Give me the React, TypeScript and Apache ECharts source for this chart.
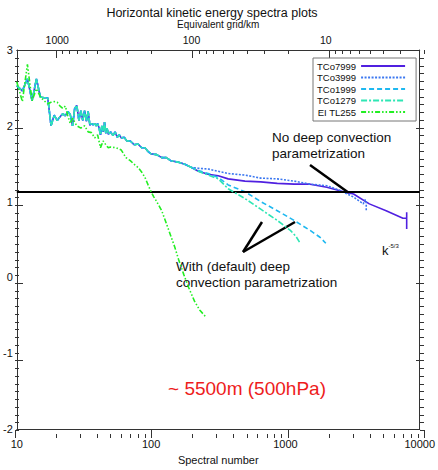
import React, { useEffect, useRef } from "react";
import * as echarts from "echarts";

// Spectral number (N) vs log10 kinetic energy
const tcoShared: [number, number][] = [
  [10, 2.53], [11, 2.46], [12, 2.62], [13, 2.33], [14, 2.62], [15, 2.38], [16, 2.37], [17, 2.37],
  [18, 2.0], [19, 2.14], [20, 2.07], [21, 2.12], [22, 2.16], [23, 2.13], [24, 2.19], [25, 2.15],
  [26, 2.0], [27, 2.23], [28, 2.27], [29, 2.07], [30, 2.2], [31, 2.07], [32, 2.2], [33, 2.06],
  [34, 2.19], [35, 2.01], [36, 2.03], [37, 2.01], [38, 2.03], [39, 2.0], [40, 2.03], [41, 1.97],
  [42, 1.88], [43, 2.0], [44, 1.92], [45, 2.05], [46, 1.9], [47, 1.97], [48, 1.89], [50, 1.92],
  [52, 1.87], [54, 1.92], [56, 1.85], [58, 1.88], [60, 1.84], [63, 1.85], [66, 1.8], [70, 1.8],
  [75, 1.75], [80, 1.76], [85, 1.71], [90, 1.71], [95, 1.66], [100, 1.63], [110, 1.62], [120, 1.58],
  [130, 1.58], [140, 1.54], [160, 1.52], [180, 1.49], [200, 1.45],
];
const tco7999Tail: [number, number][] = [
  [225, 1.4], [266, 1.36], [316, 1.34], [375, 1.3], [500, 1.27], [655, 1.26], [870, 1.24],
  [1165, 1.23], [1527, 1.23], [2036, 1.19], [2715, 1.13], [3216, 1.1], [4217, 0.97], [5623, 0.88],
  [7500, 0.78], [7999, 0.78], [7999, 0.86], [7999, 0.64],
];
const tco3999Tail: [number, number][] = [
  [225, 1.44], [266, 1.43], [316, 1.4], [375, 1.37], [500, 1.35], [655, 1.31], [870, 1.3],
  [1165, 1.27], [1527, 1.23], [2036, 1.21], [2535, 1.15], [3216, 1.06], [3800, 0.97], [3900, 1.02],
  [3999, 1.02], [3999, 0.87],
];
const tco1999Tail: [number, number][] = [
  [225, 1.41], [266, 1.37], [316, 1.32], [375, 1.22], [500, 1.13], [655, 1.0], [870, 0.88],
  [1165, 0.75], [1527, 0.62], [1808, 0.53], [1999, 0.45],
];
const tco1279Tail: [number, number][] = [
  [225, 1.4], [266, 1.35], [316, 1.3], [375, 1.17], [500, 1.04], [655, 0.9], [873, 0.75],
  [1089, 0.62], [1200, 0.54], [1279, 0.46],
];
const tl255: [number, number][] = [
  [10, 2.58], [11, 2.32], [12, 2.81], [13, 2.33], [14, 2.49], [15, 2.38], [16, 2.33], [17, 2.29],
  [18, 2.31], [19, 2.32], [20, 2.31], [21, 2.26], [22, 2.23], [23, 2.26], [24, 2.13], [25, 2.03],
  [26, 2.1], [28, 2.0], [30, 1.97], [32, 2.0], [34, 1.92], [36, 1.91], [38, 1.84], [40, 1.88],
  [42, 1.71], [44, 1.8], [46, 1.75], [48, 1.71], [50, 1.72], [55, 1.71], [60, 1.68], [65, 1.58],
  [70, 1.54], [75, 1.49], [80, 1.45], [85, 1.39], [90, 1.32], [95, 1.22], [100, 1.13], [105, 1.06],
  [110, 1.0], [120, 0.88], [130, 0.71], [140, 0.55], [150, 0.4], [160, 0.24], [175, 0.04],
  [190, -0.13], [210, -0.31], [230, -0.43], [255, -0.52],
];

const seriesNames = ["TCo7999", "TCo3999", "TCo1999", "TCo1279", "EI TL255"];
const seriesColors = ["#5020E0", "#3C78F0", "#1EB8F0", "#2EE6B4", "#22EE22"];
const referenceLevel = 1.13;

const bottomMajor = [10, 100, 1000, 10000];
const bottomMinor = [20, 30, 40, 50, 60, 70, 80, 90, 200, 300, 400, 500, 600, 700, 800, 900,
  2000, 3000, 4000, 5000, 6000, 7000, 8000, 9000];
const topMajorKm = [1000, 100, 10];
const topMinorKm = [900, 800, 700, 600, 500, 400, 300, 200, 90, 80, 70, 60, 50, 40, 30, 20,
  9, 8, 7, 6, 5, 4, 3, 2];
const kmFactor = 20000; // equivalent grid (km) = 20000 / N
const yMajor = [-2, -1, 0, 1, 2, 3];
const yMinorStep = 0.1;

const FONT = "Liberation Sans, Arial, Helvetica, sans-serif";
const W = 438, H = 470;
const GRID = { left: 15, right: 14, top: 50, bottom: 32 };

export default function App() {
  const ref = useRef<HTMLDivElement>(null);
  useEffect(() => {
    if (!ref.current) return;
    const chart = echarts.init(ref.current, undefined, { renderer: "svg" });
    const lg = (n: number) => Math.log10(n);
    const toXY = (arr: [number, number][]) => arr.map(([n, e]) => [lg(n), e]);
    const dataSets = [
      tcoShared.concat(tco7999Tail),
      tcoShared.concat(tco3999Tail),
      tcoShared.concat(tco1999Tail),
      tcoShared.concat(tco1279Tail),
      tl255,
    ];
    const lineTypes: any[] = ["solid", [2, 1.5], [5, 3], [6, 2, 2, 2], [5, 2, 1.5, 2, 1.5, 2]];
    const axisColor = "#333";
    const xMin = 1, xMax = 4, yMin = -2, yMax = 3;

    // Axis tick decoration, laid out on the grid rectangle
    const gw = W - GRID.left - GRID.right;
    const gh = H - GRID.top - GRID.bottom;
    const px = (x: number) => GRID.left + ((x - xMin) / (xMax - xMin)) * gw;
    const py = (y: number) => GRID.top + ((yMax - y) / (yMax - yMin)) * gh;
    const ticks: any[] = [];
    const seg = (x1: number, y1: number, x2: number, y2: number) =>
      ticks.push({ type: "line", shape: { x1, y1, x2, y2 }, style: { stroke: axisColor, lineWidth: 1 } });
    const vTick = (xv: number, atTop: boolean, len: number) => {
      const x = Math.round(px(xv)) + 0.5;
      const y = atTop ? GRID.top : H - GRID.bottom;
      seg(x, y, x, atTop ? y + len : y - len);
    };
    const hTick = (yv: number, atRight: boolean, len: number) => {
      const y = Math.round(py(yv)) + 0.5;
      const x = atRight ? W - GRID.right : GRID.left;
      seg(x, y, atRight ? x - len : x + len, y);
    };
    bottomMajor.forEach((n) => vTick(lg(n), false, 8));
    bottomMinor.forEach((n) => vTick(lg(n), false, 4));
    topMajorKm.forEach((k) => vTick(lg(kmFactor / k), true, 8));
    topMinorKm.forEach((k) => vTick(lg(kmFactor / k), true, 4));
    const nMinor = Math.round((yMax - yMin) / yMinorStep);
    for (let k = 1; k < nMinor; k++) {
      const v = Math.round((yMin + k * yMinorStep) * 10) / 10;
      const isMajor = yMajor.indexOf(v) >= 0;
      hTick(v, false, isMajor ? 8 : 4);
      hTick(v, true, isMajor ? 8 : 4);
    }

    const annotations: any[] = [
      {
        type: "text",
        x: 212,
        y: 13,
        style: { text: "Horizontal kinetic energy spectra plots", fontSize: 12.5, fill: "#111", align: "center", verticalAlign: "middle", fontFamily: FONT },
      },
      {
        type: "text",
        x: 272,
        y: 137,
        style: { text: "No deep convection", fontSize: 13.5, fill: "#111", align: "left", verticalAlign: "middle", fontFamily: FONT },
      },
      {
        type: "text",
        x: 272,
        y: 153,
        style: { text: "parametrization", fontSize: 13.5, fill: "#111", align: "left", verticalAlign: "middle", fontFamily: FONT },
      },
      {
        type: "text",
        x: 176,
        y: 266,
        style: { text: "With (default) deep", fontSize: 13.5, fill: "#111", align: "left", verticalAlign: "middle", fontFamily: FONT },
      },
      {
        type: "text",
        x: 176,
        y: 282,
        style: { text: "convection parametrization", fontSize: 13.5, fill: "#111", align: "left", verticalAlign: "middle", fontFamily: FONT },
      },
      {
        type: "text",
        x: 382,
        y: 243,
        style: {
          text: "{k|k}{s|-5/3}",
          fontFamily: FONT,
          rich: {
            k: { fontSize: 13, fill: "#111", fontFamily: FONT, verticalAlign: "bottom", lineHeight: 14 },
            s: { fontSize: 6, fill: "#111", fontFamily: FONT, verticalAlign: "top", lineHeight: 14 },
          },
        },
      },
      {
        type: "text",
        x: 247,
        y: 388,
        style: { text: "~ 5500m (500hPa)", fontSize: 19, fill: "#EE1C1C", align: "center", verticalAlign: "middle", fontFamily: FONT },
      },
      { type: "line", shape: { x1: 310, y1: 165, x2: 349, y2: 193 }, style: { stroke: "#000", lineWidth: 2.5 } },
      { type: "line", shape: { x1: 243, y1: 252, x2: 262, y2: 222 }, style: { stroke: "#000", lineWidth: 2.5 } },
      { type: "line", shape: { x1: 243, y1: 252, x2: 295, y2: 222 }, style: { stroke: "#000", lineWidth: 2.5 } },
    ];

    const option: any = {
      animation: false,
      backgroundColor: "#fff",
      textStyle: { fontFamily: FONT },
      grid: { ...GRID, containLabel: false },
      legend: {
        orient: "vertical",
        left: 313,
        top: 58,
        align: "right",
        borderColor: "#777",
        borderWidth: 1,
        padding: [3, 10, 4, 4],
        itemGap: 1.5,
        itemWidth: 44,
        itemHeight: 10,
        itemStyle: { opacity: 0, borderWidth: 0 },
        textStyle: { fontSize: 9.5, color: "#111", width: 41, fontFamily: FONT },
        data: seriesNames,
      },
      xAxis: [
        {
          type: "value",
          position: "bottom",
          min: xMin,
          max: xMax,
          splitLine: { show: false },
          axisLine: { show: true, onZero: false, lineStyle: { color: axisColor } },
          axisTick: { show: false },
          axisLabel: {
            customValues: bottomMajor.map(lg),
            formatter: (v: number) => String(Math.round(Math.pow(10, v))),
            margin: 9,
            fontSize: 11,
            color: "#111",
            fontFamily: FONT,
          },
          name: "Spectral number",
          nameLocation: "middle",
          nameGap: 25,
          nameMoveOverlap: false,
          nameTextStyle: { fontSize: 11, color: "#111", fontFamily: FONT },
        },
        {
          type: "value",
          position: "top",
          min: xMin,
          max: xMax,
          splitLine: { show: false },
          axisLine: { show: true, onZero: false, lineStyle: { color: axisColor } },
          axisTick: { show: false },
          axisLabel: {
            customValues: topMajorKm.map((k) => lg(kmFactor / k)),
            formatter: (v: number) => String(Math.round(kmFactor / Math.pow(10, v))),
            margin: 5,
            fontSize: 10.5,
            color: "#111",
            fontFamily: FONT,
          },
          name: "Equivalent grid/km",
          nameLocation: "middle",
          nameGap: 18,
          nameTextStyle: { fontSize: 10, color: "#111", fontFamily: FONT },
        },
      ],
      yAxis: [
        {
          type: "value",
          position: "left",
          min: yMin,
          max: yMax,
          interval: 1,
          splitLine: { show: false },
          axisLine: { show: true, onZero: false, lineStyle: { color: axisColor } },
          axisTick: { show: false },
          axisLabel: { margin: 4, fontSize: 11, color: "#111", fontFamily: FONT },
        },
        {
          type: "value",
          position: "right",
          min: yMin,
          max: yMax,
          interval: 1,
          splitLine: { show: false },
          axisLine: { show: true, onZero: false, lineStyle: { color: axisColor } },
          axisTick: { show: false },
          axisLabel: { show: false },
        },
      ],
      series: dataSets.map((d, i) => ({
        name: seriesNames[i],
        type: "line",
        xAxisIndex: 0,
        yAxisIndex: 0,
        data: toXY(d),
        symbol: "none",
        lineStyle: { color: seriesColors[i], width: 1.6, type: lineTypes[i] },
        itemStyle: { color: seriesColors[i] },
        z: 2 + i,
        markLine:
          i === 0
            ? {
                silent: true,
                symbol: "none",
                label: { show: false },
                lineStyle: { color: "#000", width: 2, type: "solid" },
                data: [{ yAxis: referenceLevel }],
              }
            : undefined,
      })),
      graphic: { elements: annotations.concat(ticks) },
    };
    chart.setOption(option);
    return () => chart.dispose();
  }, []);
  return <div ref={ref} style={{ position: "fixed", left: 0, top: 0, width: W, height: H, background: "#fff" }} />;
}
